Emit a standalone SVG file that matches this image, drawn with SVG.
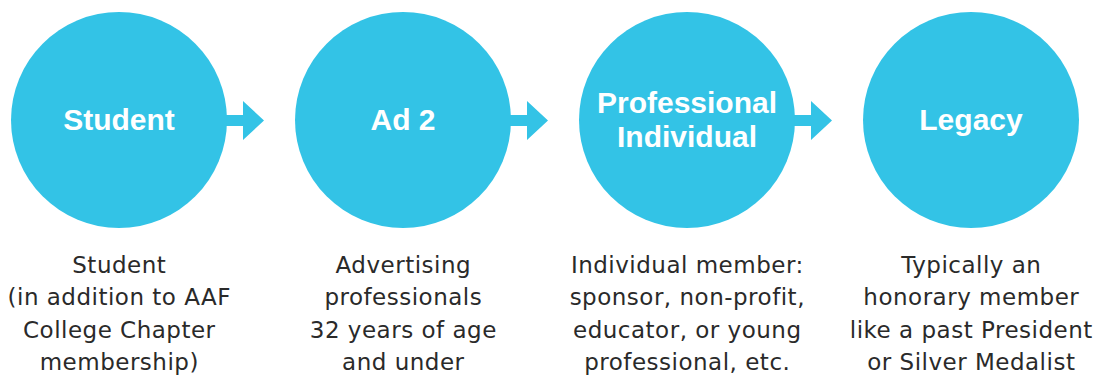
<svg xmlns="http://www.w3.org/2000/svg" width="1098" height="375" viewBox="0 0 1098 375">
  <style>
    .circle { fill: #33C3E6; }
    .arrow { fill: #33C3E6; }
    .title { font-family: "Liberation Sans", Arial, sans-serif; font-weight: bold; font-size: 30px; fill: #FFFFFF; text-anchor: middle; }
    .desc { font-family: "DejaVu Sans", "Liberation Sans", sans-serif; font-size: 23px; letter-spacing: 0.5px; fill: #2A2A2A; text-anchor: middle; }
  </style>
  <rect width="1098" height="375" fill="#FFFFFF"/>
  <g id="connectors">
    <polygon class="arrow" points="220,115 243,115 243,101 264,120.5 243,140 243,126 220,126"/>
    <polygon class="arrow" points="504,115 527,115 527,101 548,120.5 527,140 527,126 504,126"/>
    <polygon class="arrow" points="788,115 811,115 811,101 832,120.5 811,140 811,126 788,126"/>
  </g>
  <g id="node-student">
    <circle class="circle" cx="119" cy="120" r="108"/>
    <text class="title" x="119" y="130">Student</text>
    <text class="desc" x="119.3" y="272.7">Student</text>
    <text class="desc" x="119.3" y="305">(in addition to AAF</text>
    <text class="desc" x="119.3" y="337.5">College Chapter</text>
    <text class="desc" x="119.3" y="370">membership)</text>
  </g>
  <g id="node-ad2">
    <circle class="circle" cx="403" cy="120" r="108"/>
    <text class="title" x="403" y="130">Ad 2</text>
    <text class="desc" x="403.3" y="272.7">Advertising</text>
    <text class="desc" x="403.3" y="305">professionals</text>
    <text class="desc" x="403.3" y="337.5">32 years of age</text>
    <text class="desc" x="403.3" y="370">and under</text>
  </g>
  <g id="node-professional">
    <circle class="circle" cx="687" cy="120" r="108"/>
    <text class="title" x="687" y="113">Professional</text>
    <text class="title" x="687" y="147">Individual</text>
    <text class="desc" x="687.3" y="272.7">Individual member:</text>
    <text class="desc" x="687.3" y="305">sponsor, non-profit,</text>
    <text class="desc" x="687.3" y="337.5">educator, or young</text>
    <text class="desc" x="687.3" y="370">professional, etc.</text>
  </g>
  <g id="node-legacy">
    <circle class="circle" cx="971" cy="120" r="108"/>
    <text class="title" x="971" y="130">Legacy</text>
    <text class="desc" x="971.3" y="272.7">Typically an</text>
    <text class="desc" x="971.3" y="305">honorary member</text>
    <text class="desc" x="971.3" y="337.5">like a past President</text>
    <text class="desc" x="971.3" y="370">or Silver Medalist</text>
  </g>
</svg>
